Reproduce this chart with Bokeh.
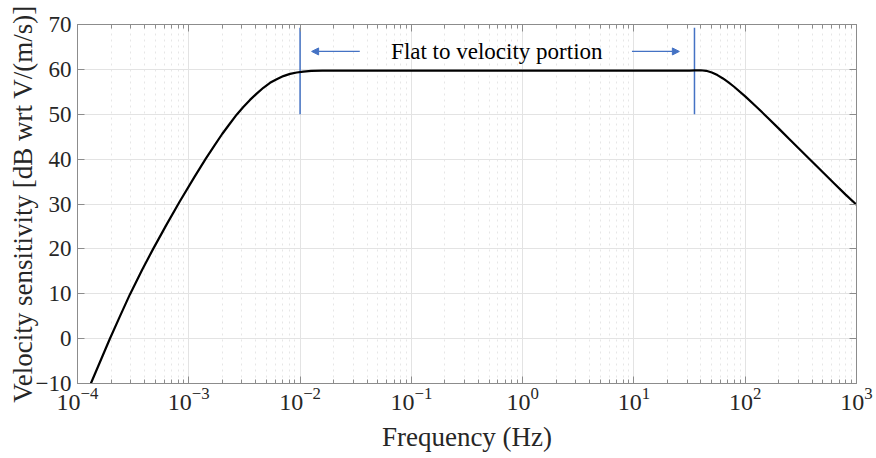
from bokeh.plotting import figure
from bokeh.models import (LogAxis, LinearAxis, LogTicker, FixedTicker, Arrow, NormalHead,
                          CustomJSTickFormatter, Range1d)
from bokeh.core.properties import value
from bokeh.embed import file_html
from bokeh.resources import INLINE

# ---- data ----
freq_hz = [1.318e-4, 1.941e-4, 2.399e-4, 2.951e-4, 3.802e-4, 4.786e-4, 6.31e-4, 8.318e-4,
           1.122e-3, 1.413e-3, 1.698e-3, 1.995e-3, 2.291e-3, 2.692e-3, 3.09e-3, 3.548e-3,
           4.074e-3, 4.677e-3, 5.37e-3, 6.166e-3, 7.079e-3, 8.128e-3, 9.333e-3, 1.072e-2,
           1.259e-2, 1.585e-2, 0.1, 1.0, 10.0, 28.18, 31.62, 35.48, 39.81, 44.67, 50.12,
           56.23, 63.1, 70.79, 79.43, 100.0, 125.9, 158.5, 199.5, 251.2, 316.2, 398.1,
           501.2, 631.0, 794.3, 1000.0]
sens_db = [-10.0, -0.2, 4.9, 9.8, 15.3, 20.0, 25.4, 30.6,
           36.0, 40.0, 43.0, 45.6, 47.6, 49.9, 51.6, 53.2,
           54.6, 55.9, 57.0, 57.8, 58.5, 59.0, 59.3, 59.5,
           59.65, 59.7, 59.72, 59.72, 59.72, 59.72, 59.74, 59.77, 59.8, 59.68, 59.3,
           58.72, 57.98, 57.1, 56.13, 53.98, 51.68, 49.29, 46.85, 44.39, 41.93, 39.47,
           37.01, 34.55, 32.15, 29.85]

x_decades = [-4, -3, -2, -1, 0, 1, 2, 3]
y_ticks = [-10, 0, 10, 20, 30, 40, 50, 60, 70]

band_edges_hz = [0.01, 35.0]          # vertical marker lines
band_y = [50.0, 69.3]                 # extent of marker lines
arrow_left = [0.0344, 0.0127]         # tail, head
arrow_right = [9.6, 25.6]             # tail, head
arrow_y = 64.0
label_text = "Flat to velocity portion"
label_x = 0.586
label_y = 64.0

FONT = "Liberation Serif"
BLUE = "#4472C4"
AXIS_GRAY = "#8c8c8c"
TEXT_COL = "#262626"

p = figure(width=876, height=458, x_axis_type="log",
           x_range=Range1d(10.0 ** x_decades[0], 10.0 ** x_decades[-1]),
           y_range=Range1d(y_ticks[0], y_ticks[-1]),
           output_backend="svg", toolbar_location=None,
           min_border_left=77, min_border_right=20, min_border_top=24, min_border_bottom=75)
p.outline_line_color = None
p.background_fill_color = "white"
p.border_fill_color = "white"

xt = LogTicker(mantissas=[1], num_minor_ticks=10)
yt = FixedTicker(ticks=y_ticks, minor_ticks=[])

p.xaxis.ticker = xt
p.yaxis.ticker = yt

for ax in (p.xaxis[0], p.yaxis[0]):
    ax.axis_line_color = AXIS_GRAY
    ax.major_tick_line_color = AXIS_GRAY
    ax.minor_tick_line_color = AXIS_GRAY
    ax.major_tick_in = 7
    ax.major_tick_out = 0
    ax.minor_tick_in = 4
    ax.minor_tick_out = 0
    ax.major_label_text_font = FONT
    ax.major_label_text_color = TEXT_COL
    ax.axis_label_text_font = FONT
    ax.axis_label_text_font_style = "normal"
    ax.axis_label_text_color = TEXT_COL

p.xaxis.axis_label_text_font_size = "27px"
p.yaxis.axis_label_text_font_size = "27px"
p.xaxis.major_label_text_font_size = "24px"
p.yaxis.major_label_text_font_size = "23px"
p.xaxis.major_label_standoff = 4
p.yaxis.major_label_standoff = 6
p.xaxis.axis_label = "Frequency (Hz)"
p.yaxis.axis_label = "Velocity sensitivity [dB wrt V/(m/s)]"
p.xaxis.axis_label_standoff = 9
p.yaxis.axis_label_standoff = -5

empty = CustomJSTickFormatter(code="return ''")
top = LogAxis(ticker=xt, formatter=empty)
right = LinearAxis(ticker=yt, formatter=empty)
for ax in (top, right):
    ax.axis_line_color = AXIS_GRAY
    ax.major_tick_line_color = AXIS_GRAY
    ax.minor_tick_line_color = AXIS_GRAY
    ax.major_tick_in = 7
    ax.major_tick_out = 0
    ax.minor_tick_in = 4
    ax.minor_tick_out = 0
    ax.major_label_text_font_size = "0px"
    ax.major_label_standoff = 0
p.add_layout(top, "above")
p.add_layout(right, "right")

p.xgrid.grid_line_color = "#e3e3e3"
p.xgrid.minor_grid_line_color = "#e6e6e6"
p.xgrid.minor_grid_line_dash = "dotted"
p.ygrid.grid_line_color = "#e3e3e3"

p.segment(x0=band_edges_hz, y0=[band_y[0]] * 2, x1=band_edges_hz, y1=[band_y[1]] * 2,
          line_color=BLUE, line_width=1.5)

p.line(freq_hz, sens_db, line_color="black", line_width=2.2)

for tail, head in (arrow_left, arrow_right):
    p.add_layout(Arrow(x_start=tail, y_start=arrow_y, x_end=head, y_end=arrow_y,
                       line_color=BLUE, line_width=1.2,
                       end=NormalHead(size=7, fill_color=BLUE, line_color=BLUE, line_width=1)))

p.text(x=[label_x], y=[label_y], text=[label_text], text_font=value(FONT),
       text_font_size="23px", text_color="black", text_align="center", text_baseline="middle")

open("out.html", "w").write(file_html(p, INLINE))
